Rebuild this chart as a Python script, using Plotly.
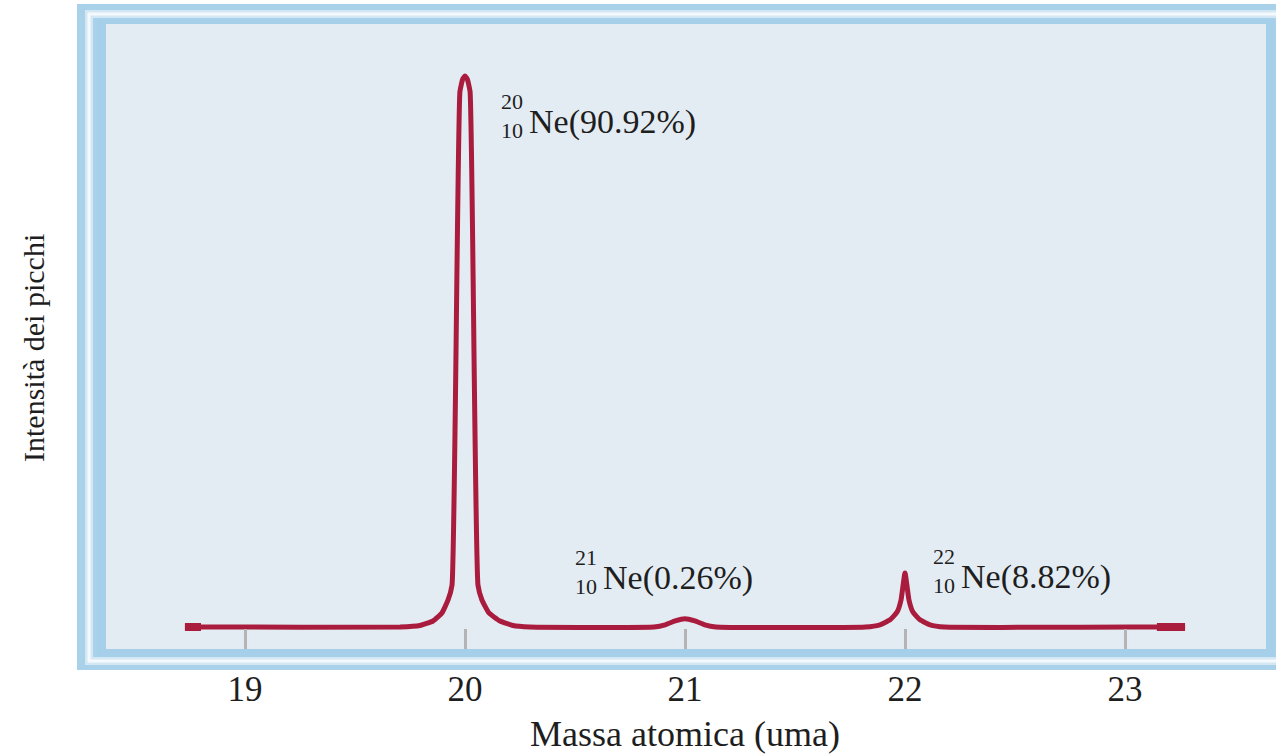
import plotly.graph_objects as go

# ---- data (intensity in arbitrary units, tallest peak = 100) ----
mass = [18.727, 18.80, 19.705, 19.795, 19.855, 19.895, 19.923, 19.941, 19.977, 19.99, 20.0,
        20.01, 20.023, 20.059, 20.077, 20.109, 20.159, 20.218, 20.295,
        20.86, 20.91, 20.955, 21.0, 21.045, 21.09, 21.14,
        21.82, 21.886, 21.932, 21.964, 21.982, 22.0, 22.018, 22.036, 22.068, 22.114, 22.18,
        23.145, 23.273]
intensity = [0, 0, 0, 0.27, 1.09, 2.54, 4.9, 7.6, 97.0, 99.3, 99.8,
             99.3, 97.0, 7.6, 4.9, 2.54, 1.09, 0.27, 0,
             0, 0.4, 1.1, 1.5, 1.1, 0.4, 0,
             0, 0.4, 1.3, 2.7, 4.9, 9.8, 4.9, 2.7, 1.3, 0.4, 0,
             0, 0]

isotope_mass = [20, 21, 22]
isotope_pct = ["90.92", "0.26", "8.82"]
tick_vals = [19, 20, 21, 22, 23]
tick_text = ["19", "20", "21", "22", "23"]
x_title = "Massa atomica (uma)"
y_title = "Intensità dei picchi"

# ---- geometry ----
W, H = 1276, 755
L, R, T, B = 106, 1266, 24, 649
pw, ph = R - L, B - T
X0 = 19 - (245 - L) / 220.0
X1 = 23 + (R - 1125) / 220.0
PX_PER_UNIT = 5.52
Y0 = -(B - 627) / PX_PER_UNIT
Y1 = (627 - T) / PX_PER_UNIT

def px(x):
    return (x - L) / pw

def py(y):
    return (B - y) / ph

RED = "#a91c3d"
SERIF = "Liberation Serif, Times New Roman, serif"
TXT = "#1e1e1e"

fig = go.Figure()
fig.add_trace(go.Scatter(x=mass, y=intensity, mode="lines",
                         line=dict(color=RED, width=5, shape="spline", smoothing=0.4),
                         hoverinfo="skip"))
# thicker end pieces
fig.add_trace(go.Scatter(x=mass[:2], y=intensity[:2], mode="lines",
                         line=dict(color=RED, width=8), hoverinfo="skip"))
fig.add_trace(go.Scatter(x=mass[-2:], y=intensity[-2:], mode="lines",
                         line=dict(color=RED, width=8), hoverinfo="skip"))

shapes = []
# frame: outer light blue band
shapes.append(dict(type="rect", xref="paper", yref="paper", layer="below",
                   x0=px(77), x1=px(1300), y0=py(670), y1=py(4),
                   fillcolor="#a9d2ea", line=dict(width=0)))
# soft white stripe
shapes.append(dict(type="rect", xref="paper", yref="paper", layer="below",
                   x0=px(89), x1=px(1300), y0=py(661), y1=py(14),
                   fillcolor="rgba(0,0,0,0)", line=dict(color="#d3e8f4", width=8)))
shapes.append(dict(type="rect", xref="paper", yref="paper", layer="below",
                   x0=px(89), x1=px(1300), y0=py(661), y1=py(14),
                   fillcolor="rgba(0,0,0,0)", line=dict(color="#f5f9fc", width=3)))
# inner light blue band
shapes.append(dict(type="rect", xref="paper", yref="paper", layer="below",
                   x0=px(97), x1=px(1275), y0=py(657), y1=py(19),
                   fillcolor="#a6d0e9", line=dict(width=0)))
# plot interior
shapes.append(dict(type="rect", xref="paper", yref="paper", layer="below",
                   x0=0, x1=1, y0=0, y1=1,
                   fillcolor="#e4ecf3", line=dict(width=0)))

annotations = []
# isotope labels: offsets (in px) of label from peak position
label_off = {20: (33, 122), 21: (-113, 578), 22: (25, 577)}
for m, pct in zip(isotope_mass, isotope_pct):
    peak_px = 245 + (m - 19) * 220
    dx, cy = label_off[m]
    lx = peak_px + dx
    # stacked mass number over atomic number
    annotations.append(dict(xref="paper", yref="paper", x=px(lx + 14), y=py(cy - 6),
                            text=str(m) + "<br>10", showarrow=False,
                            xanchor="center", yanchor="middle", align="center",
                            borderpad=0,
                            font=dict(family=SERIF, size=22, color=TXT)))
    annotations.append(dict(xref="paper", yref="paper", x=px(lx + 30), y=py(cy),
                            text="Ne(" + pct + "%)", showarrow=False, xanchor="left",
                            yanchor="middle", borderpad=0,
                            font=dict(family=SERIF, size=34, color=TXT)))

annotations.append(dict(xref="paper", yref="paper", x=px(685), y=py(734),
                        text=x_title, showarrow=False, xanchor="center", yanchor="middle",
                        font=dict(family=SERIF, size=36, color=TXT)))
annotations.append(dict(xref="paper", yref="paper", x=px(33), y=py(348),
                        text=y_title, showarrow=False, xanchor="center", yanchor="middle",
                        textangle=-90,
                        font=dict(family=SERIF, size=30, color=TXT)))

fig.update_layout(
    width=W, height=H,
    margin=dict(l=L, r=W - R, t=T, b=H - B, pad=0),
    paper_bgcolor="white", plot_bgcolor="#e4ecf3",
    showlegend=False,
    shapes=shapes, annotations=annotations,
    xaxis=dict(range=[X0, X1], tickvals=tick_vals, ticktext=tick_text,
               ticks="inside", ticklen=20, tickwidth=2.5, tickcolor="#b4b4b4",
               showgrid=False, zeroline=False, showline=False,
               ticklabelstandoff=16,
               tickfont=dict(family=SERIF, size=35, color=TXT)),
    yaxis=dict(range=[Y0, Y1], showticklabels=False, ticks="",
               showgrid=False, zeroline=False, showline=False),
)

fig.write_html("out.html", config={"displayModeBar": False},
               post_script="document.body.style.margin='0';")
